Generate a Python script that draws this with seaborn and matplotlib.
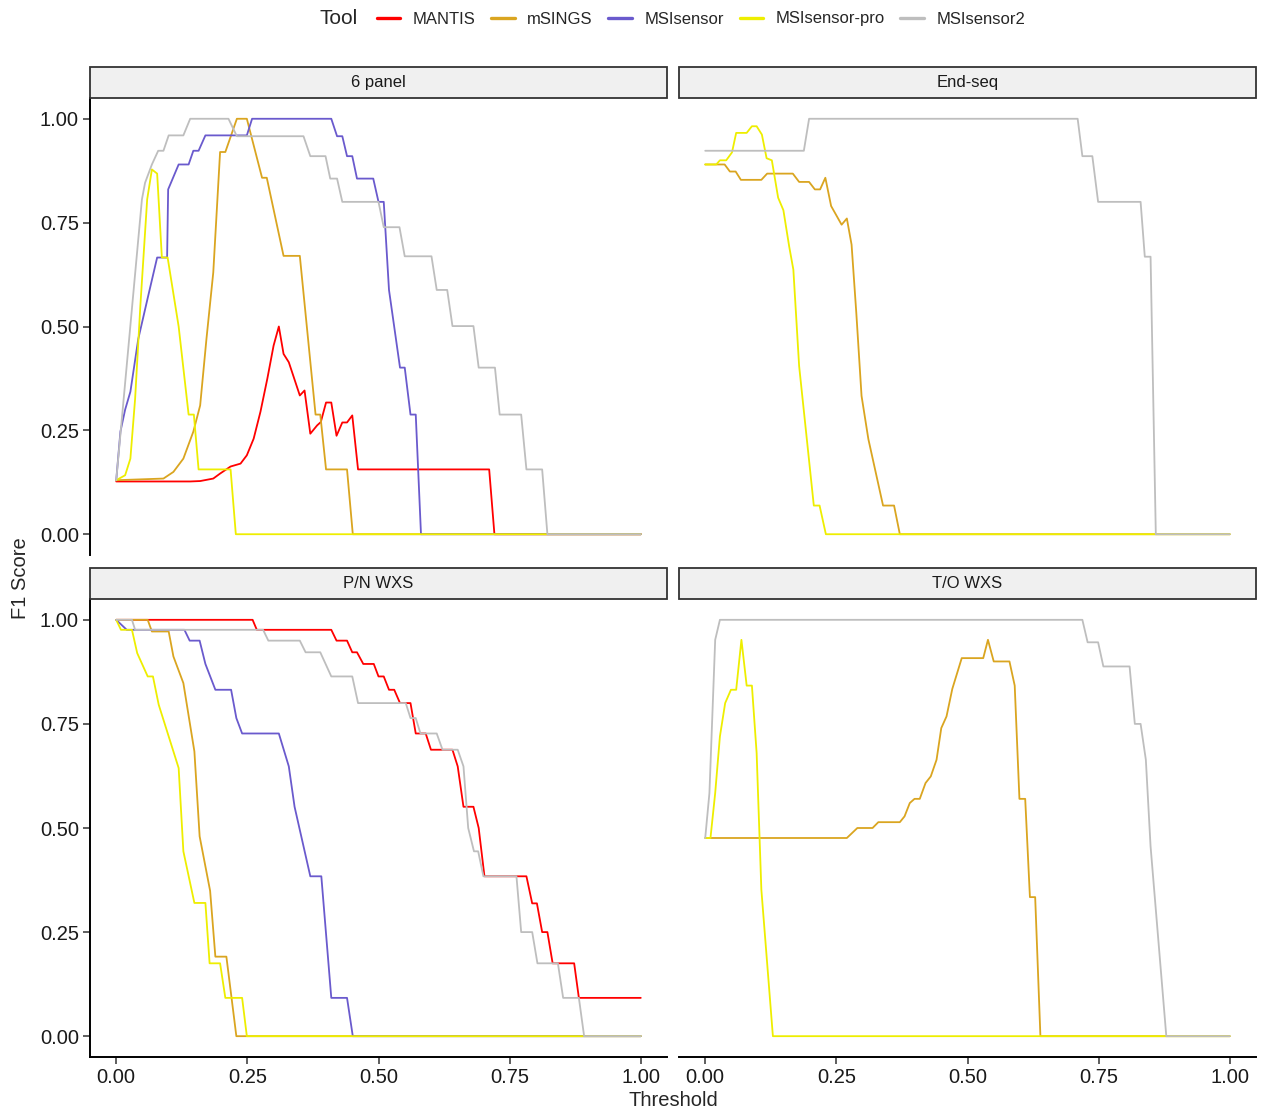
import matplotlib
matplotlib.use("Agg")
import matplotlib.pyplot as plt
from matplotlib.lines import Line2D
from matplotlib.patches import Rectangle
import seaborn as sns
import pandas as pd

sns.set_style("white")
plt.rcParams['font.family'] = ['Liberation Sans', 'DejaVu Sans']

tools = ["MANTIS", "mSINGS", "MSIsensor", "MSIsensor-pro", "MSIsensor2"]
tool_colors = ["#FF0000", "#DAA520", "#6A5ACD", "#EEEE00", "#BEBEBE"]
panels = ["6 panel", "End-seq", "P/N WXS", "T/O WXS"]

# ---- 6 panel ----
six_mantis_t = [0, 0.141, 0.16, 0.185, 0.198, 0.218, 0.237, 0.249, 0.262, 0.275, 0.288, 0.30, 0.31, 0.319,
                0.329, 0.35, 0.359, 0.37, 0.383, 0.39, 0.40, 0.41, 0.42, 0.431, 0.44, 0.45, 0.461, 0.711, 0.721, 1.0]
six_mantis_f1 = [0.127, 0.127, 0.128, 0.134, 0.146, 0.163, 0.17, 0.19, 0.23, 0.295, 0.374, 0.454, 0.50, 0.434,
                 0.414, 0.334, 0.346, 0.242, 0.262, 0.27, 0.317, 0.317, 0.237, 0.269, 0.269, 0.286, 0.156, 0.156, 0, 0]
six_msings_t = [0, 0.09, 0.109, 0.128, 0.147, 0.16, 0.172, 0.185, 0.198, 0.208, 0.23, 0.249, 0.278, 0.287,
                0.319, 0.35, 0.38, 0.389, 0.40, 0.44, 0.451, 1.0]
six_msings_f1 = [0.13, 0.134, 0.15, 0.182, 0.247, 0.31, 0.47, 0.63, 0.92, 0.92, 1.0, 1.0, 0.858, 0.858,
                 0.67, 0.67, 0.288, 0.288, 0.156, 0.156, 0, 0]
six_msisensor_t = [0, 0.008, 0.017, 0.027, 0.042, 0.061, 0.078, 0.097, 0.099, 0.119, 0.138, 0.147, 0.157, 0.17,
                   0.249, 0.259, 0.41, 0.421, 0.431, 0.44, 0.45, 0.459, 0.49, 0.50, 0.51, 0.52, 0.541, 0.55,
                   0.561, 0.571, 0.581, 1.0]
six_msisensor_f1 = [0.13, 0.247, 0.30, 0.343, 0.47, 0.574, 0.666, 0.666, 0.83, 0.89, 0.89, 0.923, 0.923, 0.96,
                    0.96, 1.0, 1.0, 0.958, 0.958, 0.91, 0.91, 0.856, 0.856, 0.80, 0.80, 0.588, 0.401, 0.401,
                    0.288, 0.288, 0, 0]
six_pro_t = [0, 0.017, 0.027, 0.036, 0.046, 0.059, 0.068, 0.078, 0.087, 0.098, 0.119, 0.138, 0.148, 0.157,
             0.218, 0.228, 1.0]
six_pro_f1 = [0.13, 0.142, 0.182, 0.326, 0.55, 0.806, 0.878, 0.868, 0.666, 0.666, 0.50, 0.288, 0.288, 0.156,
              0.156, 0, 0]
six_msi2_t = [0, 0.049, 0.055, 0.068, 0.08, 0.09, 0.10, 0.128, 0.141, 0.214, 0.23, 0.357, 0.37, 0.399, 0.408,
              0.421, 0.431, 0.50, 0.51, 0.54, 0.55, 0.601, 0.611, 0.631, 0.641, 0.681, 0.691, 0.722, 0.731,
              0.772, 0.782, 0.812, 0.822, 1.0]
six_msi2_f1 = [0.13, 0.806, 0.846, 0.89, 0.923, 0.923, 0.96, 0.96, 1.0, 1.0, 0.958, 0.958, 0.91, 0.91, 0.856,
               0.856, 0.80, 0.80, 0.739, 0.739, 0.669, 0.669, 0.588, 0.588, 0.501, 0.501, 0.401, 0.401, 0.288,
               0.288, 0.156, 0.156, 0, 0]

# ---- End-seq ----
end_msings_t = [0, 0.037, 0.047, 0.058, 0.068, 0.107, 0.118, 0.167, 0.179, 0.198, 0.209, 0.219, 0.229, 0.24,
                0.26, 0.27, 0.279, 0.288, 0.298, 0.311, 0.339, 0.36, 0.371, 1.0]
end_msings_f1 = [0.89, 0.89, 0.873, 0.873, 0.853, 0.853, 0.868, 0.868, 0.848, 0.848, 0.83, 0.83, 0.858, 0.79,
                 0.745, 0.76, 0.697, 0.533, 0.333, 0.229, 0.069, 0.069, 0, 0]
end_pro_t = [0, 0.021, 0.028, 0.04, 0.051, 0.059, 0.079, 0.089, 0.098, 0.108, 0.117, 0.127, 0.139, 0.149,
             0.16, 0.168, 0.179, 0.207, 0.218, 0.23, 1.0]
end_pro_f1 = [0.89, 0.89, 0.90, 0.90, 0.919, 0.966, 0.966, 0.982, 0.982, 0.962, 0.905, 0.90, 0.81, 0.78,
              0.693, 0.637, 0.405, 0.069, 0.069, 0, 0]
end_msi2_t = [0, 0.188, 0.198, 0.71, 0.719, 0.738, 0.749, 0.83, 0.838, 0.849, 0.859, 1.0]
end_msi2_f1 = [0.923, 0.923, 1.0, 1.0, 0.91, 0.91, 0.80, 0.80, 0.668, 0.668, 0, 0]

# ---- P/N WXS ----
pn_mantis_t = [0, 0.26, 0.268, 0.41, 0.42, 0.44, 0.45, 0.459, 0.471, 0.491, 0.50, 0.51, 0.52, 0.53, 0.541,
               0.561, 0.571, 0.59, 0.60, 0.641, 0.651, 0.662, 0.681, 0.691, 0.702, 0.782, 0.793, 0.802, 0.812,
               0.822, 0.832, 0.873, 0.882, 1.0]
pn_mantis_f1 = [1.0, 1.0, 0.976, 0.976, 0.95, 0.95, 0.922, 0.922, 0.894, 0.894, 0.864, 0.864, 0.832, 0.832,
                0.80, 0.80, 0.727, 0.727, 0.688, 0.688, 0.648, 0.551, 0.551, 0.50, 0.384, 0.384, 0.319, 0.319,
                0.25, 0.25, 0.175, 0.175, 0.092, 0.092]
pn_msings_t = [0, 0.06, 0.068, 0.10, 0.109, 0.128, 0.149, 0.159, 0.179, 0.189, 0.21, 0.229, 1.0]
pn_msings_f1 = [1.0, 1.0, 0.972, 0.972, 0.912, 0.848, 0.684, 0.48, 0.349, 0.191, 0.191, 0, 0]
pn_msisensor_t = [0, 0.02, 0.13, 0.14, 0.159, 0.17, 0.189, 0.219, 0.229, 0.24, 0.31, 0.329, 0.34, 0.37,
                  0.391, 0.41, 0.44, 0.451, 1.0]
pn_msisensor_f1 = [1.0, 0.976, 0.976, 0.95, 0.95, 0.894, 0.832, 0.832, 0.764, 0.727, 0.727, 0.648, 0.551,
                   0.384, 0.384, 0.092, 0.092, 0, 0]
pn_pro_t = [0, 0.009, 0.03, 0.04, 0.06, 0.07, 0.081, 0.119, 0.128, 0.149, 0.17, 0.178, 0.198, 0.208, 0.24,
            0.249, 1.0]
pn_pro_f1 = [1.0, 0.976, 0.976, 0.92, 0.864, 0.864, 0.796, 0.644, 0.444, 0.32, 0.32, 0.175, 0.175, 0.092,
             0.092, 0, 0]
pn_msi2_t = [0, 0.03, 0.036, 0.28, 0.29, 0.35, 0.361, 0.389, 0.41, 0.45, 0.461, 0.552, 0.561, 0.571, 0.58,
             0.611, 0.622, 0.651, 0.662, 0.671, 0.682, 0.69, 0.70, 0.763, 0.772, 0.793, 0.803, 0.842, 0.852,
             0.882, 0.892, 1.0]
pn_msi2_f1 = [1.0, 1.0, 0.976, 0.976, 0.95, 0.95, 0.922, 0.922, 0.864, 0.864, 0.80, 0.80, 0.764, 0.764,
              0.727, 0.727, 0.688, 0.688, 0.648, 0.50, 0.444, 0.444, 0.384, 0.384, 0.25, 0.25, 0.175, 0.175,
              0.092, 0.092, 0, 0]

# ---- T/O WXS ----
to_msings_t = [0, 0.27, 0.29, 0.319, 0.33, 0.371, 0.38, 0.39, 0.399, 0.409, 0.42, 0.43, 0.441, 0.45, 0.46,
               0.471, 0.489, 0.53, 0.539, 0.55, 0.58, 0.59, 0.599, 0.61, 0.619, 0.629, 0.639, 1.0]
to_msings_f1 = [0.476, 0.476, 0.50, 0.50, 0.514, 0.514, 0.528, 0.56, 0.57, 0.57, 0.608, 0.624, 0.664, 0.74,
                0.768, 0.834, 0.908, 0.908, 0.952, 0.90, 0.90, 0.842, 0.57, 0.57, 0.334, 0.334, 0, 0]
to_pro_t = [0, 0.01, 0.019, 0.028, 0.038, 0.049, 0.059, 0.069, 0.079, 0.089, 0.098, 0.107, 0.129, 1.0]
to_pro_f1 = [0.476, 0.476, 0.584, 0.72, 0.80, 0.832, 0.832, 0.952, 0.842, 0.842, 0.68, 0.352, 0, 0]
to_msi2_t = [0, 0.008, 0.019, 0.028, 0.719, 0.729, 0.749, 0.759, 0.809, 0.819, 0.83, 0.84, 0.849, 0.879, 1.0]
to_msi2_f1 = [0.476, 0.584, 0.952, 1.0, 1.0, 0.946, 0.946, 0.888, 0.888, 0.75, 0.75, 0.664, 0.456, 0, 0]

series = [
    ("6 panel", "MANTIS", six_mantis_t, six_mantis_f1),
    ("6 panel", "mSINGS", six_msings_t, six_msings_f1),
    ("6 panel", "MSIsensor", six_msisensor_t, six_msisensor_f1),
    ("6 panel", "MSIsensor-pro", six_pro_t, six_pro_f1),
    ("6 panel", "MSIsensor2", six_msi2_t, six_msi2_f1),
    ("End-seq", "mSINGS", end_msings_t, end_msings_f1),
    ("End-seq", "MSIsensor-pro", end_pro_t, end_pro_f1),
    ("End-seq", "MSIsensor2", end_msi2_t, end_msi2_f1),
    ("P/N WXS", "MANTIS", pn_mantis_t, pn_mantis_f1),
    ("P/N WXS", "mSINGS", pn_msings_t, pn_msings_f1),
    ("P/N WXS", "MSIsensor", pn_msisensor_t, pn_msisensor_f1),
    ("P/N WXS", "MSIsensor-pro", pn_pro_t, pn_pro_f1),
    ("P/N WXS", "MSIsensor2", pn_msi2_t, pn_msi2_f1),
    ("T/O WXS", "mSINGS", to_msings_t, to_msings_f1),
    ("T/O WXS", "MSIsensor-pro", to_pro_t, to_pro_f1),
    ("T/O WXS", "MSIsensor2", to_msi2_t, to_msi2_f1),
]

rows = []
for panel, tool, ts, fs in series:
    for t, f in zip(ts, fs):
        rows.append({"Dataset": panel, "Tool": tool, "Threshold": t, "F1": f})
df = pd.DataFrame(rows)

W, H = 1261, 1111
fig = plt.figure(figsize=(W / 100, H / 100), dpi=100)
palette = dict(zip(tools, tool_colors))

# panel boxes in pixels: (left, top, right, bottom) of plot area
boxes = {
    "6 panel": (90, 98, 667, 555),
    "End-seq": (679, 98, 1256, 555),
    "P/N WXS": (90, 599, 667, 1057),
    "T/O WXS": (679, 599, 1256, 1057),
}
strip_h = 31
tick_labels = ["0.00", "0.25", "0.50", "0.75", "1.00"]

for i, panel in enumerate(panels):
    l, t, r, b = boxes[panel]
    ax = fig.add_axes([l / W, 1 - b / H, (r - l) / W, (b - t) / H])
    sub = df[df["Dataset"] == panel]
    sns.lineplot(data=sub, x="Threshold", y="F1", hue="Tool", hue_order=tools, palette=palette,
                 estimator=None, sort=False, linewidth=1.3, legend=False, ax=ax)
    ax.set_xlim(-0.05, 1.05)
    ax.set_ylim(-0.05, 1.05)
    ax.set_xlabel("")
    ax.set_ylabel("")
    left_col = i % 2 == 0
    bottom_row = i >= 2
    for side in ["top", "right"]:
        ax.spines[side].set_visible(False)
    ax.spines["left"].set_visible(left_col)
    ax.spines["bottom"].set_visible(bottom_row)
    for side in ["left", "bottom"]:
        ax.spines[side].set_linewidth(1.4)
        ax.spines[side].set_color("black")
    ax.set_xticks([0, 0.25, 0.5, 0.75, 1.0])
    ax.set_yticks([0, 0.25, 0.5, 0.75, 1.0])
    ax.set_xticklabels(tick_labels)
    ax.set_yticklabels(tick_labels)
    ax.tick_params(axis="both", direction="out", length=5, width=1.1, color="#333333",
                   labelsize=14.5, labelcolor="#1a1a1a", pad=3)
    ax.tick_params(axis="y", left=left_col, labelleft=left_col)
    ax.tick_params(axis="x", bottom=bottom_row, labelbottom=bottom_row)
    # facet strip
    fig.patches.append(Rectangle((l / W, 1 - t / H), (r - l) / W, strip_h / H,
                                 transform=fig.transFigure, facecolor="#F0F0F0",
                                 edgecolor="#333333", linewidth=1.3))
    fig.text((l + r) / 2 / W, 1 - (t - strip_h / 2) / H, panel, ha="center", va="center",
             fontsize=12, color="#1a1a1a")

fig.text(20 / W, 1 - 578 / H, "F1 Score", rotation=90, ha="center", va="center", fontsize=14.5)
fig.text(673 / W, 1 - 1100 / H, "Threshold", ha="center", va="center", fontsize=14.5)

handles = [Line2D([0], [0], color=c, lw=2.4) for c in tool_colors]
fig.legend(handles, tools, loc="center", bbox_to_anchor=(701 / W, 1 - 19 / H), ncol=5, frameon=False,
           fontsize=12, handlelength=1.4, handletextpad=0.75, columnspacing=0.95)
fig.text(339 / W, 1 - 19 / H, "Tool", ha="center", va="center", fontsize=15)

fig.savefig("out.png", dpi=100)
